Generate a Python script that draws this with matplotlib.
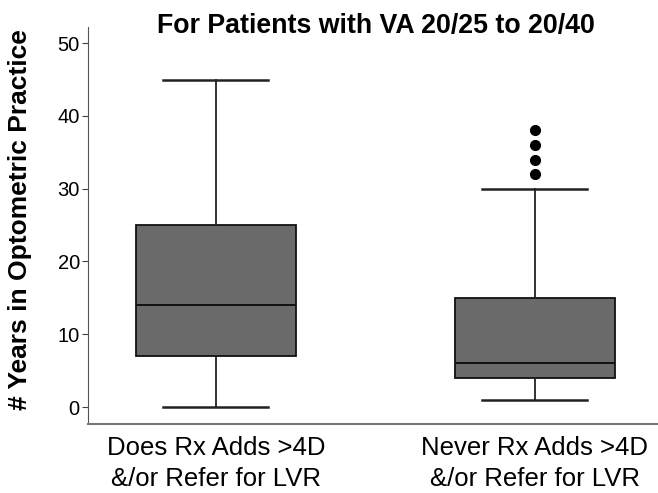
import matplotlib.pyplot as plt

plt.rcParams['font.family'] = ['Liberation Sans', 'DejaVu Sans']

groups = ["Does Rx Adds >4D\n&/or Refer for LVR", "Never Rx Adds >4D\n&/or Refer for LVR"]
whisker_lo = [0, 1]
q1 = [7, 4]
medians = [14, 6]
q3 = [25, 15]
whisker_hi = [45, 30]
outliers = [[], [32, 34, 36, 38]]

stats = []
for i in range(len(groups)):
    stats.append(dict(whislo=whisker_lo[i], q1=q1[i], med=medians[i], q3=q3[i],
                      whishi=whisker_hi[i], fliers=outliers[i], label=groups[i]))

fig = plt.figure(figsize=(6.58, 4.93), dpi=100)
ax = fig.add_axes([0.134, 0.14, 0.866, 0.805])

ax.bxp(stats, positions=[1, 2], widths=0.5, capwidths=0.33, patch_artist=True,
       boxprops=dict(facecolor="#6a6a6a", edgecolor="#111111", linewidth=1.3),
       medianprops=dict(color="#111111", linewidth=1.4),
       whiskerprops=dict(color="#222222", linewidth=1.3),
       capprops=dict(color="#222222", linewidth=1.8),
       flierprops=dict(marker="o", markerfacecolor="black", markeredgecolor="black",
                       markersize=7))

ax.set_xlim(0.6, 2.386)
ax.set_ylim(-2.33, 52.2)
ax.set_yticks([0, 10, 20, 30, 40, 50])
ax.tick_params(axis="y", labelsize=14.5, length=4, color="#444444", pad=2)
ax.tick_params(axis="x", labelsize=18.5, length=0, pad=9)
for lbl in ax.get_xticklabels():
    lbl.set_linespacing(1.35)

for side in ["top", "right"]:
    ax.spines[side].set_visible(False)
ax.spines["left"].set_color("#555555")
ax.spines["bottom"].set_color("#777777")
ax.spines["bottom"].set_linewidth(1.5)

fig.text(20 / 658, 0.554, "# Years in Optometric Practice", rotation=90,
         ha="center", va="center", fontsize=19, fontweight="bold")
fig.text(0.571, 1 - 33 / 493, "For Patients with VA 20/25 to 20/40",
         ha="center", va="baseline", fontsize=19.3, fontweight="bold")

fig.savefig("out.png", dpi=100)
